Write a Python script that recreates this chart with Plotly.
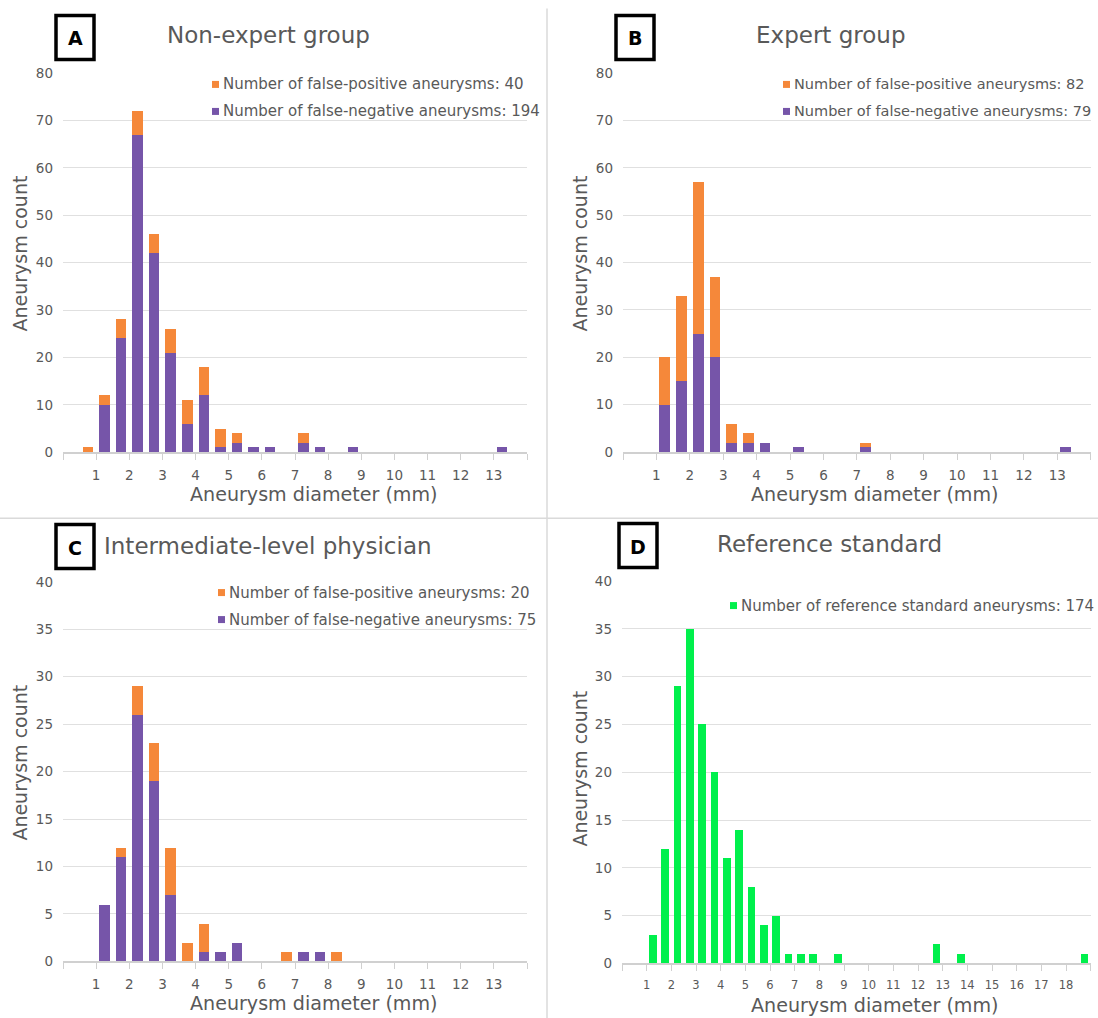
import plotly.graph_objects as go

W, H = 1098, 1018

# ---------------- data ----------------
# bin centres (mm) of 0.5-mm diameter bins
bins_a = [0.75, 1.25, 1.75, 2.25, 2.75, 3.25, 3.75, 4.25, 4.75, 5.25, 5.75, 6.25, 7.25, 7.75, 8.75, 13.25]
fn_a   = [0,    10,   24,   67,   42,   21,   6,    12,   1,    2,    1,    1,    2,    1,    1,    1]
fp_a   = [1,    2,    4,    5,    4,    5,    5,    6,    4,    2,    0,    0,    2,    0,    0,    0]

bins_b = [1.25, 1.75, 2.25, 2.75, 3.25, 3.75, 4.25, 5.25, 7.25, 13.25]
fn_b   = [10,   15,   25,   20,   2,    2,    2,    1,    1,    1]
fp_b   = [10,   18,   32,   17,   4,    2,    0,    0,    1,    0]

bins_c = [1.25, 1.75, 2.25, 2.75, 3.25, 3.75, 4.25, 4.75, 5.25, 6.75, 7.25, 7.75, 8.25]
fn_c   = [6,    11,   26,   19,   7,    0,    1,    1,    2,    0,    1,    1,    0]
fp_c   = [0,    1,    3,    4,    5,    2,    3,    0,    0,    1,    0,    0,    1]

bins_d = [1.25, 1.75, 2.25, 2.75, 3.25, 3.75, 4.25, 4.75, 5.25, 5.75, 6.25, 6.75, 7.25, 7.75, 8.75, 12.75, 13.75, 18.75]
ref_d  = [3,    12,   29,   35,   25,   20,   11,   14,   8,    4,    5,    1,    1,    1,    1,    2,     1,     1]

panel_letters = ["A", "B", "C", "D"]
panel_titles = ["Non-expert group", "Expert group", "Intermediate-level physician", "Reference standard"]
fp_totals = [40, 82, 20]
fn_totals = [194, 79, 75]
ref_total = 174

x_labels_abc = [str(i) for i in range(1, 14)]
x_labels_d = [str(i) for i in range(1, 19)]
y_max = [80, 80, 40, 40]
y_step = [10, 10, 5, 5]
x_max = [14, 14, 14, 19]

x_title = "Aneurysm diameter (mm)"
y_title = "Aneurysm count"

# ---------------- style ----------------
ORANGE = "#F5883A"
PURPLE = "#7655A9"
GREEN = "#00F04C"
GREY_TXT = "#595959"
GRID = "#E0E0E0"
AXIS = "#D0D0D0"
FONT = "DejaVu Sans"

# the page capture compresses the page slightly in height; compensate
Y_OFF = 7.6
Y_SCALE = 0.984

def px(x):
    return x / W

def py(y):
    return 1 - ((y - Y_OFF) / Y_SCALE) / H

# plot areas in pixels: (x0, x1, ytop, ybottom)
areas = [
    (63, 527, 72.6, 451.7),
    (623, 1090.7, 72.6, 451.5),
    (63, 527, 581.3, 960.7),
    (622, 1090.7, 580.5, 962.7),
]

fig = go.Figure()
BW = 0.32

def add_bars(i, xs, ys, color, name):
    suffix = "" if i == 0 else str(i + 1)
    fig.add_trace(go.Bar(x=xs, y=ys, width=BW, marker=dict(color=color, line=dict(width=0)),
                         name=name, showlegend=False,
                         xaxis="x" + suffix, yaxis="y" + suffix))

add_bars(0, bins_a, fn_a, PURPLE, "False-negative")
add_bars(0, bins_a, fp_a, ORANGE, "False-positive")
add_bars(1, bins_b, fn_b, PURPLE, "False-negative")
add_bars(1, bins_b, fp_b, ORANGE, "False-positive")
add_bars(2, bins_c, fn_c, PURPLE, "False-negative")
add_bars(2, bins_c, fp_c, ORANGE, "False-positive")
add_bars(3, bins_d, ref_d, GREEN, "Reference standard")

layout = dict(
    width=W, height=H, autosize=False,
    margin=dict(l=0, r=0, t=0, b=0),
    paper_bgcolor="white", plot_bgcolor="white",
    barmode="stack", bargap=0,
    font=dict(family=FONT, color=GREY_TXT),
    showlegend=False,
)

for i, (x0, x1, yt, yb) in enumerate(areas):
    suffix = "" if i == 0 else str(i + 1)
    labels = x_labels_d if i == 3 else x_labels_abc
    tickvals = list(range(0, x_max[i] + 1))
    ticktext = [""] + labels + [""]
    layout["xaxis" + suffix] = dict(
        domain=[px(x0), px(x1)], anchor="y" + suffix,
        range=[0, x_max[i]], tickmode="array", tickvals=tickvals, ticktext=ticktext,
        ticks="outside", ticklen=6, tickcolor=AXIS, tickwidth=1.3,
        showline=True, linecolor=AXIS, linewidth=1.5,
        showgrid=False, zeroline=False, fixedrange=True,
        tickfont=dict(size=11.5 if i == 3 else 13.5, color=GREY_TXT, family=FONT),
        ticklabelstandoff=4,
    )
    layout["yaxis" + suffix] = dict(
        domain=[py(yb), py(yt)], anchor="x" + suffix,
        range=[0, y_max[i]], dtick=y_step[i], tick0=0,
        showgrid=True, gridcolor=GRID, gridwidth=1.3,
        showline=False, zeroline=False, ticks="", fixedrange=True,
        tickfont=dict(size=13.5, color=GREY_TXT, family=FONT),
        ticklabelstandoff=9,
    )

fig.update_layout(**layout)

shapes = []
annotations = []

# divider lines
shapes.append(dict(type="line", xref="paper", yref="paper", x0=px(547), x1=px(547), y0=py(8), y1=py(1018),
                   line=dict(color="#DADADA", width=1.5)))
shapes.append(dict(type="line", xref="paper", yref="paper", x0=0, x1=1, y0=py(517.7), y1=py(517.7),
                   line=dict(color="#DADADA", width=1.5)))

# letter boxes (x0, x1, y0, y1)
boxes = [(56, 94, 15, 59), (616, 654, 15, 59), (56, 94, 524, 568), (619, 657, 523, 567)]
for letter, (bx0, bx1, by0, by1) in zip(panel_letters, boxes):
    shapes.append(dict(type="rect", xref="paper", yref="paper", x0=px(bx0), x1=px(bx1), y0=py(by1), y1=py(by0),
                       line=dict(color="black", width=3.5), fillcolor="white"))
    annotations.append(dict(text="<b>%s</b>" % letter, xref="paper", yref="paper",
                            x=px((bx0 + bx1) / 2), y=py((by0 + by1) / 2 + 1), xanchor="center", yanchor="middle",
                            showarrow=False, font=dict(size=19, color="black", family=FONT)))

# panel titles
title_pos = [(268, 35), (830, 35), (268, 545), (829, 543)]
for t, (tx, ty) in zip(panel_titles, title_pos):
    annotations.append(dict(text=t, xref="paper", yref="paper", x=px(tx), y=py(ty),
                            xanchor="center", yanchor="middle", showarrow=False,
                            font=dict(size=23, color=GREY_TXT, family=FONT)))

# axis titles
xt_pos = [(314, 494), (875, 494), (314, 1003), (875, 1005)]
yt_pos = [(20, 253), (580, 253), (20, 762), (580, 768)]
for (xx, xy), (yx, yy) in zip(xt_pos, yt_pos):
    annotations.append(dict(text=x_title, xref="paper", yref="paper", x=px(xx), y=py(xy),
                            xanchor="center", yanchor="middle", showarrow=False,
                            font=dict(size=19.1, color=GREY_TXT, family=FONT)))
    annotations.append(dict(text=y_title, xref="paper", yref="paper", x=px(yx), y=py(yy),
                            xanchor="center", yanchor="middle", showarrow=False, textangle=-90,
                            font=dict(size=19, color=GREY_TXT, family=FONT)))

# legends (square marker + text)
def legend_item(sq_x, y, color, text, size=15):
    shapes.append(dict(type="rect", xref="paper", yref="paper",
                       x0=px(sq_x), x1=px(sq_x + 7), y0=py(y + 3.5), y1=py(y - 3.5),
                       line=dict(width=0), fillcolor=color))
    annotations.append(dict(text=text, xref="paper", yref="paper", x=px(sq_x + 8.5), y=py(y),
                            xanchor="left", yanchor="middle", showarrow=False,
                            font=dict(size=size, color=GREY_TXT, family=FONT)))

leg_pos = [(212, 84, 111, 15), (783, 84, 111, 14.5), (218, 592, 619, 15)]
for (sx, y1, y2, fs), fpt, fnt in zip(leg_pos, fp_totals, fn_totals):
    legend_item(sx, y1, ORANGE, "Number of false-positive aneurysms: %d" % fpt, fs)
    legend_item(sx, y2, PURPLE, "Number of false-negative aneurysms: %d" % fnt, fs)
legend_item(730, 605, GREEN, "Number of reference standard aneurysms: %d" % ref_total)

fig.update_layout(shapes=shapes, annotations=annotations)
fig.write_html("out.html", config={"displayModeBar": False},
               post_script="document.body.style.margin='0';document.body.style.overflow='hidden';")
